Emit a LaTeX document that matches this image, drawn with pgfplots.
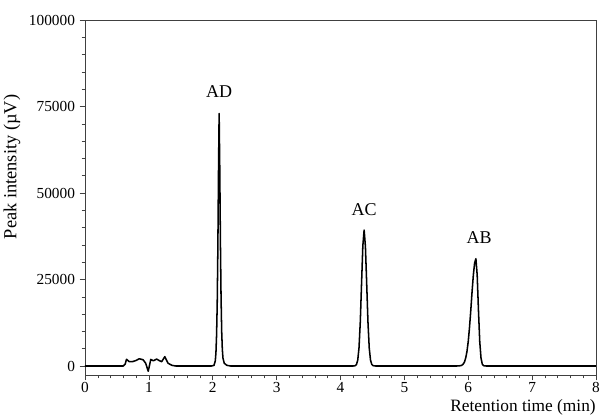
\documentclass[border=0pt]{standalone}
\usepackage{pgfplots}
\pgfplotsset{compat=1.18}
\usepackage{fontspec}
\setmainfont{Liberation Serif}

\begin{document}
\begin{tikzpicture}
\begin{axis}[
    at={(0,0)}, anchor=south west,
    width=383.25pt, height=266.25pt,
    scale only axis,
    xmin=0, xmax=8,
    ymin=-2600, ymax=100000,
    xtick={0,1,2,3,4,5,6,7,8},
    ytick={0,25000,50000,75000,100000},
    minor x tick num=4,
    minor y tick num=4,
    tick pos=left,
    tick align=outside,
    major tick length=4pt,
    minor tick length=2.5pt,
    scaled y ticks=false,
    /pgf/number format/1000 sep={},
    /pgf/number format/assume math mode=true,
    y tick label style={/pgf/number format/fixed},
    tick label style={font=\fontsize{11.5}{13}\selectfont},
    x tick label style={inner sep=1.5pt},
    axis line style={black!75, line width=0.5pt},
    every tick/.style={black!75, line width=0.4pt},
    xlabel={Retention time (min)},
    ylabel={Peak intensity (\textmu V)},
    xlabel style={at={(axis description cs:1,0)}, anchor=north east,
        inner sep=0pt, yshift=-18.5pt, font=\fontsize{13}{15}\selectfont},
    ylabel style={at={(axis description cs:-0.143,0.586)}, anchor=center,
        inner sep=0pt, font=\fontsize{13.8}{15}\selectfont},
    clip=false,
]

% chromatogram trace
\addplot[black, line width=1.15pt, line join=round] coordinates {
    (0,0) (0.60,0) (0.63,600) (0.65,1950) (0.69,1300) (0.74,1250)
    (0.80,1600) (0.85,2100) (0.91,1800) (0.95,800) (0.99,-1500)
    (1.03,1900) (1.07,1500) (1.12,2000) (1.17,1500) (1.20,1250)
    (1.25,2700) (1.30,800) (1.36,200) (1.42,0)
    % AD
    (1.98,0) (2.02,200) (2.04,1500) (2.05,3800) (2.06,9000) (2.07,18000)
    (2.08,34000) (2.09,56000) (2.10,73000) (2.11,57000) (2.12,36000)
    (2.13,20000) (2.14,10000) (2.15,4800) (2.16,2300) (2.18,800)
    (2.22,200) (2.28,0)
    % AC
    (4.20,0) (4.23,90) (4.25,440) (4.27,1700) (4.29,5300) (4.31,12800)
    (4.33,24000) (4.35,34800) (4.37,39300) (4.39,34600) (4.41,23900)
    (4.43,12700) (4.45,5200) (4.47,1700) (4.49,450) (4.51,100) (4.55,0)
    % AB
    (5.82,0) (5.88,90) (5.90,220) (5.92,530) (5.94,1100) (5.96,2300)
    (5.98,4200) (6.00,7100) (6.02,11200) (6.04,16100) (6.06,21500)
    (6.08,26300) (6.10,29800) (6.12,31000) (6.14,26300) (6.16,16100)
    (6.18,7100) (6.20,2300) (6.22,520) (6.24,90) (6.28,0)
    (8,0)
};

\node[font=\fontsize{13.5}{15}\selectfont] at (axis cs:2.10,79400) {AD};
\node[font=\fontsize{13.5}{15}\selectfont] at (axis cs:4.37,45300) {AC};
\node[font=\fontsize{13.5}{15}\selectfont] at (axis cs:6.17,37200) {AB};

\end{axis}
\pgfresetboundingbox
\path[use as bounding box] (-63.75pt,-29.25pt) rectangle (390.75pt,281.25pt);
\end{tikzpicture}
\end{document}
